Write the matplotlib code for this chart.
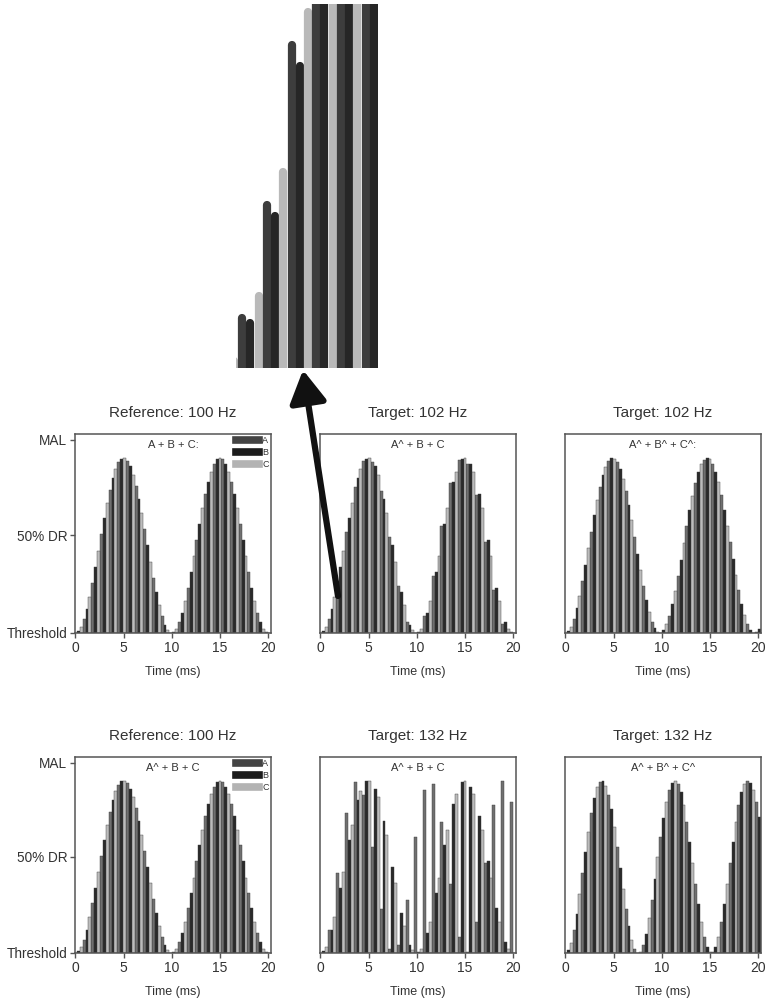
import numpy as np
import matplotlib
matplotlib.use("Agg")
import matplotlib.pyplot as plt
from matplotlib.lines import Line2D
from matplotlib.patches import FancyArrowPatch, ArrowStyle

plt.rcParams['font.family'] = ['Liberation Sans', 'DejaVu Sans']

# ---- pulse-train parameters -------------------------------------------
channels = ['A', 'B', 'C']
channel_colors = ['#707070', '#2a2a2a', '#bcbcbc']
legend_colors = ['#444444', '#1c1c1c', '#b3b3b3']
channel_offsets_ms = [0.0, 0.3, 0.6]       # interleaved stimulation order
pulse_period_ms = 0.9                      # per-channel pulse period
peak_level = 0.88                          # envelope peak (fraction of MAL axis)
duration_ms = 20.3

panel_titles = ['Reference: 100 Hz', 'Target: 102 Hz', 'Target: 102 Hz',
                'Reference: 100 Hz', 'Target: 132 Hz', 'Target: 132 Hz']
panel_labels = ['A + B + C:', 'A^ + B + C', 'A^ + B^ + C^:',
                'A^ + B + C', 'A^ + B + C', 'A^ + B^ + C^']
# modulation rate of channels A, B, C in each panel (Hz)
modulation_hz = [(100, 100, 100), (102, 100, 100), (102, 102, 102),
                 (100, 100, 100), (132, 100, 100), (132, 132, 132)]
show_legend = [True, False, False, True, False, False]

ytick_values = [0.0, 0.49, 0.97]
ytick_labels = ['Threshold', '50% DR', 'MAL']
xtick_values = [0, 5, 10, 15, 20]

# close-up of the first pulses of the A^ + B + C train
inset_channels = ['C', 'A', 'B', 'C', 'A', 'B', 'C', 'A', 'B', 'C',
                  'A', 'B', 'C', 'A', 'B', 'C', 'A', 'B']
inset_heights = [0.03, 0.15, 0.135, 0.21, 0.46, 0.43, 0.55, 0.90, 0.84, 0.99,
                 1.2, 1.2, 1.2, 1.2, 1.2, 1.2, 1.2, 1.2]
inset_colors = {'A': '#3d3d3d', 'B': '#262626', 'C': '#b9b9b9'}

text_color = '#333333'
frame_color = '#555555'

# ---- figure -----------------------------------------------------------
W, H = 767, 1006
fig = plt.figure(figsize=(W / 100, H / 100), dpi=100)

col_left = [75, 320, 565]
ax_w = 196
rows = [(434, 633), (757, 953)]   # (top, bottom) in pixels


def px_axes(left, top, width, bottom):
    return fig.add_axes([left / W, 1 - bottom / H, width / W, (bottom - top) / H])


for i in range(6):
    r, c = divmod(i, 3)
    top, bottom = rows[r]
    ax = px_axes(col_left[c], top, ax_w, bottom)
    for k, name in enumerate(channels):
        t = np.arange(channel_offsets_ms[k], duration_ms, pulse_period_ms)
        f = modulation_hz[i][k]
        h = peak_level * (1 - np.cos(2 * np.pi * f * t / 1000.0)) / 2
        ax.bar(t, h, width=pulse_period_ms / 3, color=channel_colors[k],
               edgecolor='#3a3a3a', linewidth=0.3, align='center', label=name)
    ax.set_xlim(-0.05, 20.3)
    ax.set_ylim(0, 1.0)
    ax.set_xticks(xtick_values)
    ax.set_xticklabels([str(v) for v in xtick_values])
    if c == 0:
        ax.set_yticks(ytick_values)
        ax.set_yticklabels(ytick_labels)
    else:
        ax.set_yticks([])
    ax.tick_params(direction='out', length=3.5, width=1.0, colors=frame_color,
                   labelcolor=text_color, labelsize=10, pad=2)
    ax.tick_params(axis='y', labelsize=9.8, pad=2)
    for s in ax.spines.values():
        s.set_color(frame_color)
        s.set_linewidth(1.1)
    ax.set_xlabel('Time (ms)', fontsize=9, color=text_color, labelpad=8)
    ax.set_title(panel_titles[i], fontsize=11, color=text_color, pad=12)
    ax.text(0.5, 0.945, panel_labels[i], transform=ax.transAxes, ha='center',
            va='center', fontsize=8, color=text_color)
    if show_legend[i]:
        handles = [Line2D([0], [0], color=legend_colors[k], lw=5.5)
                   for k in range(3)]
        leg = ax.legend(handles, channels, loc='upper right', frameon=False,
                        fontsize=6.5, handlelength=2.6, handletextpad=0.35,
                        labelspacing=0.3, borderaxespad=0.1, borderpad=0.15)
        for txt in leg.get_texts():
            txt.set_color(text_color)

# ---- magnified inset ----------------------------------------------------
in_left, in_top, in_right, in_bottom = 236, 4, 378, 368
ax_in = px_axes(in_left, in_top, in_right - in_left, in_bottom)
x0, x1 = 0.25, 17.5
ax_in.set_xlim(x0, x1)
ax_in.set_ylim(0, 1)
ax_in.axis('off')
bar_px = (in_right - in_left) / (x1 - x0)
lw_pt = bar_px * 72 / 100
cap_r = (bar_px / 2) / (in_bottom - in_top)
for j, (ch, hgt) in enumerate(zip(inset_channels, inset_heights)):
    ax_in.vlines(j, -0.2, hgt - cap_r, colors=inset_colors[ch],
                 linewidth=lw_pt, capstyle='round')

# ---- arrow linking the inset to the pulse train ----------------------------
arrow = FancyArrowPatch((338 / W, 1 - 596 / H), (303 / W, 1 - 370 / H),
                        transform=fig.transFigure,
                        arrowstyle=ArrowStyle('-|>', head_length=1.4, head_width=0.8),
                        mutation_scale=14, lw=4.5, color='#111111',
                        shrinkA=0, shrinkB=0)
fig.add_artist(arrow)

fig.savefig('out.png', dpi=100)
